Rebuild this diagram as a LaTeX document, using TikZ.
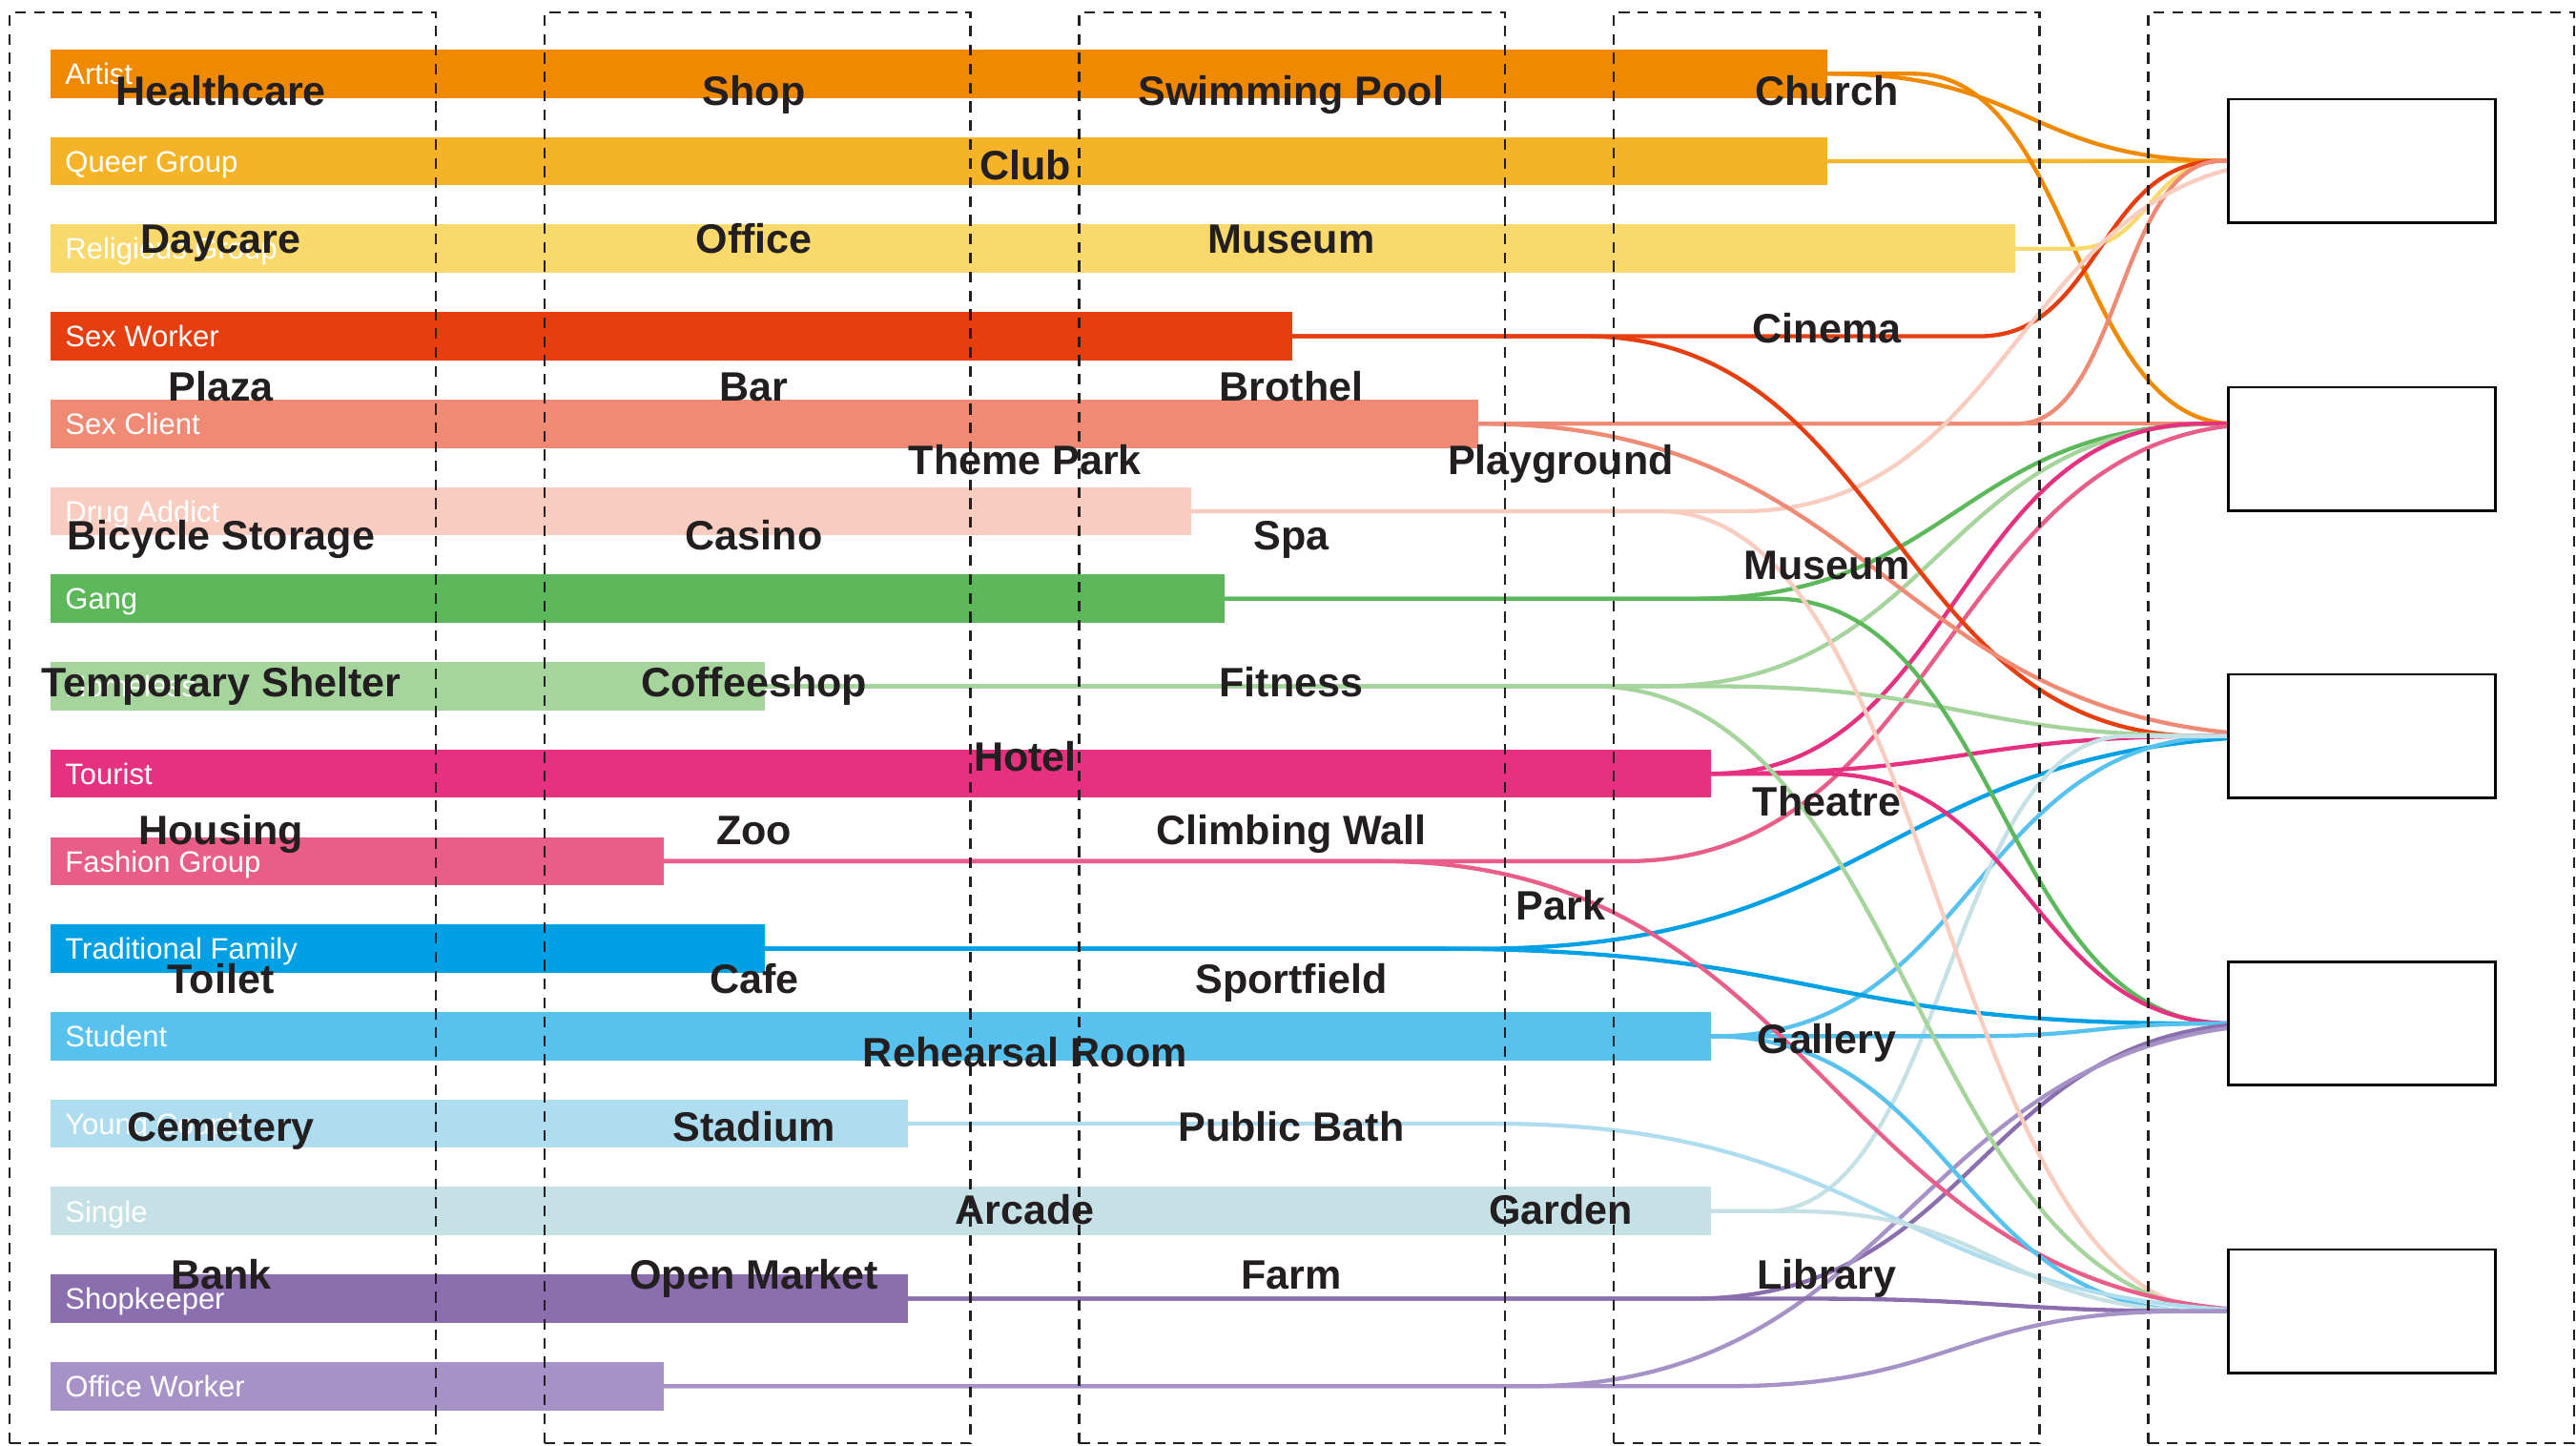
\documentclass[tikz,border=0pt]{standalone}
\usepackage{fontspec}
\setmainfont{Liberation Sans}
\usepackage{xcolor}
\usepackage{tikz}
\usetikzlibrary{positioning, calc}

\definecolor{ink}{HTML}{231F20}
\definecolor{cArtist}{HTML}{EF8A00}
\definecolor{cQueer}{HTML}{F5B428}
\definecolor{cReligious}{HTML}{F9D86C}
\definecolor{cSexWorker}{HTML}{E73E10}
\definecolor{cSexClient}{HTML}{EF8A74}
\definecolor{cDrug}{HTML}{F8CDC0}
\definecolor{cGang}{HTML}{5DB85C}
\definecolor{cHomeless}{HTML}{A6D49D}
\definecolor{cTourist}{HTML}{E5317F}
\definecolor{cFashion}{HTML}{E95E88}
\definecolor{cFamily}{HTML}{00A0E4}
\definecolor{cStudent}{HTML}{57C2EE}
\definecolor{cCouple}{HTML}{AEDDEF}
\definecolor{cSingle}{HTML}{C6E1E6}
\definecolor{cShop}{HTML}{8A6EAE}
\definecolor{cOffice}{HTML}{A692C6}

% colour, source bar, x where it bends, x where it lands, entry point
\newcommand\drawflow[5]{%
  \draw[flow, #1] (#2.east) -- (#3,0 |- #2.east)
    .. controls ($(#3,0 |- #2.east)!.5!(#4,0 |- #2.east)$)
            and ($(#3,0 |- #5)!.5!(#4,0 |- #5)$)
    .. (#4,0 |- #5) -- (#5);}

\begin{document}
\begin{tikzpicture}[
        x=1pt, y=-1pt,
        bar/.style={
            rectangle, anchor=west, minimum height=29.4pt,
            inner sep=0pt, outer sep=0pt
        },
        barlabel/.style={
            anchor=base west, inner sep=0pt, xshift=8.5pt, yshift=-6.5pt,
            text=white, font=\fontsize{18}{21}\selectfont
        },
        place/.style={
            anchor=base, inner sep=0pt, text=ink,
            font=\fontsize{25}{30}\selectfont\bfseries
        },
        column/.style={
            rectangle, draw=ink, dash pattern=on 6.5pt off 5pt, line width=1.3pt,
            minimum width=259.3pt, minimum height=871.1pt, inner sep=0pt
        },
        dest/.style={
            rectangle, draw=black, fill=white, line width=1.6pt,
            minimum width=162.5pt, minimum height=75.1pt, inner sep=0pt
        },
        flow/.style={line width=2.5pt}
    ]
        \useasboundingbox (0,0) rectangle (1568,880);

        % groups
        \node[bar, fill=cArtist, minimum width=1081pt] (artist) at (31,44.9) {};
        \node[bar, fill=cQueer, minimum width=1081pt] (queer) at (31,98.15) {};
        \node[bar, fill=cReligious, minimum width=1195.6pt] (religious) at (31,151.4) {};
        \node[bar, fill=cSexWorker, minimum width=755.4pt] (sexworker) at (31,204.65) {};
        \node[bar, fill=cSexClient, minimum width=868.7pt] (sexclient) at (31,257.9) {};
        \node[bar, fill=cDrug, minimum width=693.8pt] (drugaddict) at (31,311.15) {};
        \node[bar, fill=cGang, minimum width=714.4pt] (gang) at (31,364.4) {};
        \node[bar, fill=cHomeless, minimum width=434.5pt] (homeless) at (31,417.65) {};
        \node[bar, fill=cTourist, minimum width=1010.3pt] (tourist) at (31,470.9) {};
        \node[bar, fill=cFashion, minimum width=373pt] (fashion) at (31,524.15) {};
        \node[bar, fill=cFamily, minimum width=434.5pt] (family) at (31,577.4) {};
        \node[bar, fill=cStudent, minimum width=1010.3pt] (student) at (31,630.65) {};
        \node[bar, fill=cCouple, minimum width=521.5pt] (couple) at (31,683.9) {};
        \node[bar, fill=cSingle, minimum width=1010.3pt] (single) at (31,737.15) {};
        \node[bar, fill=cShop, minimum width=521.5pt] (shopkeeper) at (31,790.4) {};
        \node[bar, fill=cOffice, minimum width=373pt] (officeworker) at (31,843.65) {};

        \node[barlabel] (tArtist) at (artist.west) {Artist};
        \node[barlabel] (tQueer) at (queer.west) {Queer Group};
        \node[barlabel] (tReligious) at (religious.west) {Religious Group};
        \node[barlabel] (tSexWorker) at (sexworker.west) {Sex Worker};
        \node[barlabel] (tSexClient) at (sexclient.west) {Sex Client};
        \node[barlabel] (tDrug) at (drugaddict.west) {Drug Addict};
        \node[barlabel] (tGang) at (gang.west) {Gang};
        \node[barlabel] (tHomeless) at (homeless.west) {Homeless};
        \node[barlabel] (tTourist) at (tourist.west) {Tourist};
        \node[barlabel] (tFashion) at (fashion.west) {Fashion Group};
        \node[barlabel] (tFamily) at (family.west) {Traditional Family};
        \node[barlabel] (tStudent) at (student.west) {Student};
        \node[barlabel] (tCouple) at (couple.west) {Young Couple};
        \node[barlabel] (tSingle) at (single.west) {Single};
        \node[barlabel] (tShop) at (shopkeeper.west) {Shopkeeper};
        \node[barlabel] (tOffice) at (officeworker.west) {Office Worker};

        % entry points of the boxes
        \coordinate (in1) at (1355.5,97.95);
        \coordinate (in2) at (1355.5,257.9);
        \coordinate (in3) at (1355.5,447.95);
        \coordinate (in4) at (1355.5,622.95);
        \coordinate (in5) at (1355.5,798.05);

        % links
        \draw[flow, cQueer] (queer.east) -- (in1);
        \draw[flow, cSexClient] (sexclient.east) -- (in2);
        \drawflow{cArtist}{artist}{1115}{1355}{in1}
        \drawflow{cArtist}{artist}{1165}{1360}{in2}
        \drawflow{cReligious}{religious}{1262}{1354}{in1}
        \drawflow{cSexWorker}{sexworker}{1205}{1351}{in1}
        \drawflow{cSexClient}{sexclient}{1228}{1352}{in1}
        \drawflow{cDrug}{drugaddict}{1060}{1400}{in1}
        \drawflow{cGang}{gang}{1030}{1352}{in2}
        \drawflow{cHomeless}{homeless}{1010}{1350}{in2}
        \drawflow{cTourist}{tourist}{1042}{1340}{in2}
        \drawflow{cFashion}{fashion}{990}{1380}{in2}
        \drawflow{cSexWorker}{sexworker}{965}{1339}{in3}
        \drawflow{cSexClient}{sexclient}{900}{1400}{in3}
        \drawflow{cHomeless}{homeless}{1040}{1350}{in3}
        \drawflow{cTourist}{tourist}{1042}{1350}{in3}
        \drawflow{cFamily}{family}{900}{1400}{in3}
        \drawflow{cStudent}{student}{1045}{1358}{in3}
        \drawflow{cSingle}{single}{1075}{1295}{in3}
        \drawflow{cGang}{gang}{1080}{1356}{in4}
        \drawflow{cTourist}{tourist}{1110}{1360}{in4}
        \drawflow{cFamily}{family}{872}{1337}{in4}
        \drawflow{cStudent}{student}{1200}{1350}{in4}
        \drawflow{cShop}{shopkeeper}{1030}{1380}{in4}
        \drawflow{cOffice}{officeworker}{930}{1400}{in4}
        \drawflow{cDrug}{drugaddict}{1010}{1354}{in5}
        \drawflow{cHomeless}{homeless}{969}{1361}{in5}
        \drawflow{cFashion}{fashion}{840}{1390}{in5}
        \drawflow{cStudent}{student}{1042}{1340}{in5}
        \drawflow{cCouple}{couple}{909}{1395}{in5}
        \drawflow{cSingle}{single}{1090}{1346}{in5}
        \drawflow{cShop}{shopkeeper}{1100}{1340}{in5}
        \drawflow{cOffice}{officeworker}{1050}{1330}{in5}

        % dashed columns
        \node[column] (col1) at (135.65,442.95) {};
        \node[column] (col2) at (461.05,442.95) {};
        \node[column] (col3) at (786.45,442.95) {};
        \node[column] (col4) at (1111.85,442.95) {};
        \node[column] (col5) at (1437.25,442.95) {};

        % empty boxes
        \node[dest, right=0pt of in1] (dest1) {};
        \node[dest, anchor=west] (dest2) at (1355.5,273.25) {};
        \node[dest, right=0pt of in3] (dest3) {};
        \node[dest, right=0pt of in4] (dest4) {};
        \node[dest, right=0pt of in5] (dest5) {};

        % places
        \node[place] (pHealthcare) at (134.5,63.9) {Healthcare};
        \node[place] (pShop) at (459,63.9) {Shop};
        \node[place] (pSwimming) at (786,63.9) {Swimming Pool};
        \node[place] (pChurch) at (1112,63.9) {Church};
        \node[place] (pClub) at (624,109.4) {Club};
        \node[place] (pDaycare) at (134.5,154) {Daycare};
        \node[place] (pOffice) at (459,154) {Office};
        \node[place] (pMuseum) at (786,154) {Museum};
        \node[place] (pCinema) at (1112,208.6) {Cinema};
        \node[place] (pPlaza) at (134.5,244.2) {Plaza};
        \node[place] (pBar) at (459,244.2) {Bar};
        \node[place] (pBrothel) at (786,244.2) {Brothel};
        \node[place] (pThemePark) at (624,289) {Theme Park};
        \node[place] (pPlayground) at (950,289) {Playground};
        \node[place] (pBicycle) at (134.5,334.4) {Bicycle Storage};
        \node[place] (pCasino) at (459,334.4) {Casino};
        \node[place] (pSpa) at (786,334.4) {Spa};
        \node[place] (pMuseumB) at (1112,352.6) {Museum};
        \node[place] (pShelter) at (134.5,424.2) {Temporary Shelter};
        \node[place] (pCoffeeshop) at (459,424.2) {Coffeeshop};
        \node[place] (pFitness) at (786,424.2) {Fitness};
        \node[place] (pHotel) at (624,469.3) {Hotel};
        \node[place] (pTheatre) at (1112,496.4) {Theatre};
        \node[place] (pHousing) at (134.5,514.2) {Housing};
        \node[place] (pZoo) at (459,514.2) {Zoo};
        \node[place] (pClimbing) at (786,514.2) {Climbing Wall};
        \node[place] (pPark) at (950,559.7) {Park};
        \node[place] (pToilet) at (134.5,604.8) {Toilet};
        \node[place] (pCafe) at (459,604.8) {Cafe};
        \node[place] (pSportfield) at (786,604.8) {Sportfield};
        \node[place] (pGallery) at (1112,641) {Gallery};
        \node[place] (pRehearsal) at (624,649.3) {Rehearsal Room};
        \node[place] (pCemetery) at (134.5,694.8) {Cemetery};
        \node[place] (pStadium) at (459,694.8) {Stadium};
        \node[place] (pPublicBath) at (786,694.8) {Public Bath};
        \node[place] (pArcade) at (624,745) {Arcade};
        \node[place] (pGarden) at (950,745) {Garden};
        \node[place] (pBank) at (134.5,784.7) {Bank};
        \node[place] (pOpenMarket) at (459,784.7) {Open Market};
        \node[place] (pFarm) at (786,784.7) {Farm};
        \node[place] (pLibrary) at (1112,784.7) {Library};
    \end{tikzpicture}
\end{document}
